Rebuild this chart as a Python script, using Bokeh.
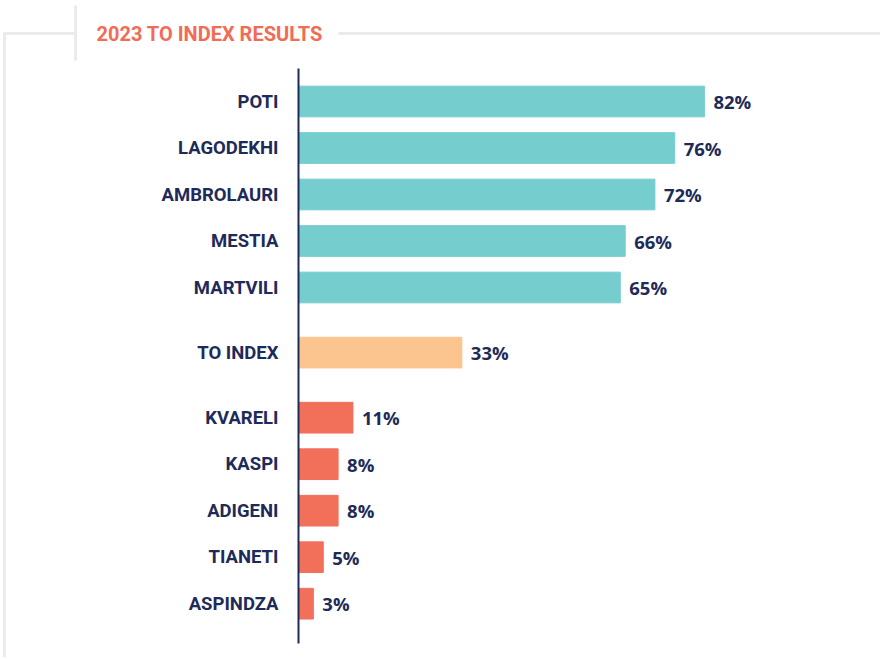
from bokeh.plotting import figure
from bokeh.models import Range1d, LinearAxis, FixedTicker, ColumnDataSource
from bokeh.embed import file_html
from bokeh.resources import INLINE
from bokeh.core.properties import value

# ---- data ----
regions = ["POTI", "LAGODEKHI", "AMBROLAURI", "MESTIA", "MARTVILI",
           "TO INDEX",
           "KVARELI", "KASPI", "ADIGENI", "TIANETI", "ASPINDZA"]
scores = [82, 76, 72, 66, 65, 33, 11, 8, 8, 5, 3]
groups = ["top"] * 5 + ["index"] + ["bottom"] * 5
title_text = "2023 TO INDEX RESULTS"

# ---- styles ----
NAVY = "#1E2B58"
GROUP_COLORS = {"top": "#76CDCE", "index": "#FCC48F", "bottom": "#F26F5A"}
TITLE_COLOR = "#F26B55"
FRAME_COLOR = "#EBEBEB"
LABEL_FONT = "Roboto"
VALUE_FONT = "Open Sans"

W, H = 880, 657
AXIS_PX = 298
PX_PER_PCT = 4.95
ROW_PX = 46.5
TOP_PX = 101
GAP = 1.4

pos = []
y = 0.0
prev = None
for g in groups:
    if prev is not None:
        y += 1.0 if g == prev else GAP
    pos.append(round(y, 2))
    prev = g

x_range = Range1d(-AXIS_PX / PX_PER_PCT, (W - AXIS_PX) / PX_PER_PCT)
y_range = Range1d(start=(H - TOP_PX) / ROW_PX, end=-TOP_PX / ROW_PX)


def dx(px):
    return x_range.start + px / PX_PER_PCT


def dy(py):
    return (py - TOP_PX) / ROW_PX


p = figure(width=W, height=H, x_range=x_range, y_range=y_range,
           x_axis_type=None, y_axis_type=None,
           output_backend="svg", toolbar_location=None,
           min_border=0, outline_line_color=None)
p.grid.visible = False

src = ColumnDataSource(dict(
    y=pos, score=scores, name=regions,
    color=[GROUP_COLORS[g] for g in groups],
    lbl=[f"{s}%" for s in scores],
))

p.hbar(y="y", left=0, right="score", height=0.66, color="color", source=src)
p.text(x="score", y="y", text="lbl", source=src, x_offset=9,
       text_baseline="middle", text_align="left",
       text_font=value(VALUE_FONT), text_font_style="bold",
       text_font_size="18.5px", text_color=NAVY)

ax = LinearAxis(fixed_location=0,
                ticker=FixedTicker(ticks=pos),
                major_label_overrides={p_: n for p_, n in zip(pos, regions)},
                major_tick_line_color=None, minor_tick_line_color=None,
                axis_line_color=NAVY, axis_line_width=2,
                major_label_standoff=14,
                major_label_text_font=LABEL_FONT,
                major_label_text_font_style="bold",
                major_label_text_font_size="18.5px",
                major_label_text_color=NAVY,
                bounds=(dy(68), dy(643)))
p.add_layout(ax, "left")

# frame decoration
p.segment(x0=[dx(3), dx(338), dx(75), dx(4)],
          y0=[dy(33), dy(33), dy(5), dy(33)],
          x1=[dx(75), dx(W), dx(75), dx(4)],
          y1=[dy(33), dy(33), dy(60), dy(H)],
          line_color=FRAME_COLOR, line_width=3)

p.text(x=[dx(96)], y=[dy(33)], text=[title_text],
       text_baseline="middle", text_align="left",
       text_font=value(LABEL_FONT), text_font_style="bold",
       text_font_size="20px", text_color=TITLE_COLOR)

open("out.html", "w").write(file_html(p, INLINE))
